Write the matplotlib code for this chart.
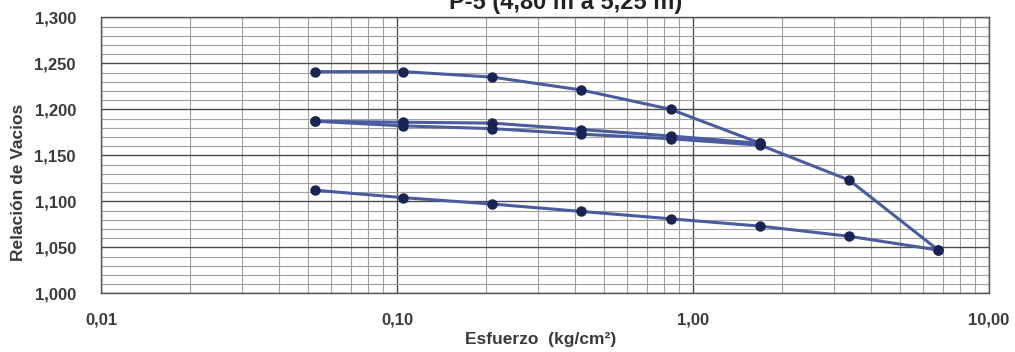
import matplotlib
matplotlib.use("Agg")
import matplotlib.pyplot as plt
from matplotlib.ticker import FixedLocator, MultipleLocator, LogLocator, NullFormatter, FuncFormatter

plt.rcParams['font.family'] = ['Liberation Sans', 'DejaVu Sans']

# Consolidation test: load steps (kg/cm²) and void ratio
stress_load1 = [0.053, 0.105, 0.21, 0.42, 0.84, 1.69]
void_load1 = [1.241, 1.241, 1.235, 1.221, 1.200, 1.163]

stress_unload1 = [1.69, 0.84, 0.42, 0.21, 0.105, 0.053]
void_unload1 = [1.163, 1.171, 1.178, 1.185, 1.186, 1.187]

stress_reload = [0.053, 0.105, 0.21, 0.42, 0.84, 1.69, 3.37, 6.74]
void_reload = [1.187, 1.182, 1.179, 1.173, 1.168, 1.161, 1.123, 1.047]

stress_unload2 = [6.74, 3.37, 1.69, 0.84, 0.42, 0.21, 0.105, 0.053]
void_unload2 = [1.047, 1.062, 1.073, 1.081, 1.089, 1.097, 1.104, 1.112]

x_ticks = [0.01, 0.1, 1.0, 10.0]
x_tick_labels = ["0,01", "0,10", "1,00", "10,00"]
y_ticks = [1.000, 1.050, 1.100, 1.150, 1.200, 1.250, 1.300]

title = "P-5 (4,80 m a 5,25 m)"

fig = plt.figure(figsize=(10.15, 3.52), dpi=100)
ax = fig.add_axes([0.0995, 0.1667, 0.8749, 0.7841])

line_color = '#4a5b9e'
marker_color = '#1a2452'
for xs, ys in [(stress_load1, void_load1), (stress_unload1, void_unload1),
               (stress_reload, void_reload), (stress_unload2, void_unload2)]:
    ax.plot(xs, ys, color=line_color, lw=2.2, marker='o', ms=6.5,
            mfc=marker_color, mec=marker_color, zorder=3)

ax.set_xscale('log')
ax.set_xlim(0.01, 10)
ax.set_ylim(1.0, 1.3)

ax.xaxis.set_major_locator(FixedLocator(x_ticks))
ax.xaxis.set_major_formatter(FuncFormatter(lambda v, p: x_tick_labels[x_ticks.index(v)] if v in x_ticks else ""))
ax.xaxis.set_minor_locator(LogLocator(base=10, subs=range(2, 10)))
ax.xaxis.set_minor_formatter(NullFormatter())

ax.yaxis.set_major_locator(FixedLocator(y_ticks))
ax.yaxis.set_major_formatter(FuncFormatter(lambda v, p: f"{v:.3f}".replace('.', ',')))
ax.yaxis.set_minor_locator(MultipleLocator(0.01))

ax.grid(which='major', axis='both', color='#4a4a4a', lw=1.0)
ax.grid(which='minor', axis='both', color='#a0a0a0', lw=0.8)
ax.set_axisbelow(True)

ax.tick_params(which='both', length=0)
ax.tick_params(axis='y', pad=18, labelsize=12, labelcolor='#3a3a3a')
ax.tick_params(axis='x', pad=14, labelsize=12, labelcolor='#3a3a3a')
for lbl in ax.get_xticklabels() + ax.get_yticklabels():
    lbl.set_fontweight('bold')

for sp in ax.spines.values():
    sp.set_color('#555555')
    sp.set_linewidth(1.0)

fig.text(0.533, 0.023, "Esfuerzo  (kg/cm²)", ha='center', va='baseline',
         fontsize=12.5, fontweight='bold', color='#3a3a3a')
fig.text(0.018, 0.483, "Relación de Vacios", rotation=90, ha='center', va='center',
         fontsize=12.5, fontweight='bold', color='#3a3a3a')
fig.text(0.557, 0.975, title, ha='center', va='baseline',
         fontsize=17, fontweight='bold', color='#222222')

fig.savefig('out.png', dpi=100)
